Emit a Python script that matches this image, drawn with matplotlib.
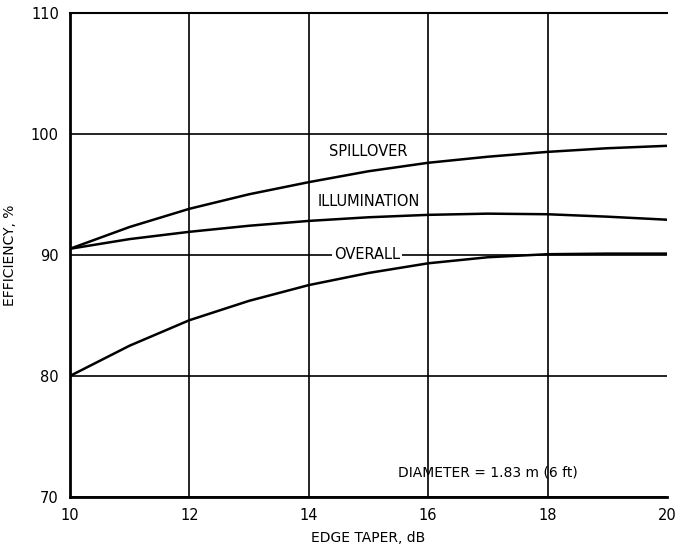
import matplotlib
matplotlib.use("Agg")
import matplotlib.pyplot as plt

# edge taper, dB
taper = [10, 11, 12, 13, 14, 15, 16, 17, 18, 19, 20]

# efficiencies, %
spillover = [90.5, 92.3, 93.8, 95.0, 96.0, 96.9, 97.6, 98.1, 98.5, 98.8, 99.0]
illumination = [90.5, 91.3, 91.9, 92.4, 92.8, 93.1, 93.3, 93.4, 93.35, 93.15, 92.9]
overall = [80.0, 82.5, 84.6, 86.2, 87.5, 88.5, 89.3, 89.8, 90.05, 90.1, 90.1]

x_ticks = [10, 12, 14, 16, 18, 20]
y_ticks = [70, 80, 90, 100, 110]


def main():
    plt.rcParams['font.family'] = ['DejaVu Sans']
    fig = plt.figure(figsize=(6.75, 5.48), dpi=100)
    ax = fig.add_axes([0.1037, 0.093, 0.8843, 0.884])

    ax.set_xlim(10, 20)
    ax.set_ylim(70, 110)
    ax.set_xticks(x_ticks)
    ax.set_yticks(y_ticks)
    ax.tick_params(length=0, labelsize=10.5, pad=8)
    ax.grid(True, color="black", linewidth=1.2)
    ax.set_axisbelow(True)
    # no line at the right edge in the original
    ax.get_xgridlines()[-1].set_visible(False)

    for name in ["left", "bottom"]:
        ax.spines[name].set_linewidth(2.0)
    ax.spines["top"].set_linewidth(1.5)
    ax.spines["right"].set_visible(False)

    for series in (spillover, illumination, overall):
        ax.plot(taper, series, color="black", linewidth=1.8, zorder=3)

    box = dict(facecolor="white", edgecolor="none", pad=1.5)
    ax.text(15.0, 98.5, "SPILLOVER", ha="center", va="center", fontsize=10.5, zorder=4)
    ax.text(15.0, 94.4, "ILLUMINATION", ha="center", va="center", fontsize=10.5,
            bbox=box, zorder=4)
    ax.text(14.97, 90.0, "OVERALL", ha="center", va="center", fontsize=10.5,
            bbox=box, zorder=4)
    ax.text(17.0, 72.0, "DIAMETER = 1.83 m (6 ft)", ha="center", va="center",
            fontsize=10, zorder=4)

    ax.set_xlabel("EDGE TAPER, dB", fontsize=10, labelpad=6)
    ax.set_ylabel("EFFICIENCY, %", fontsize=10, labelpad=10)

    fig.savefig("out.png", dpi=100)


if __name__ == "__main__":
    main()
